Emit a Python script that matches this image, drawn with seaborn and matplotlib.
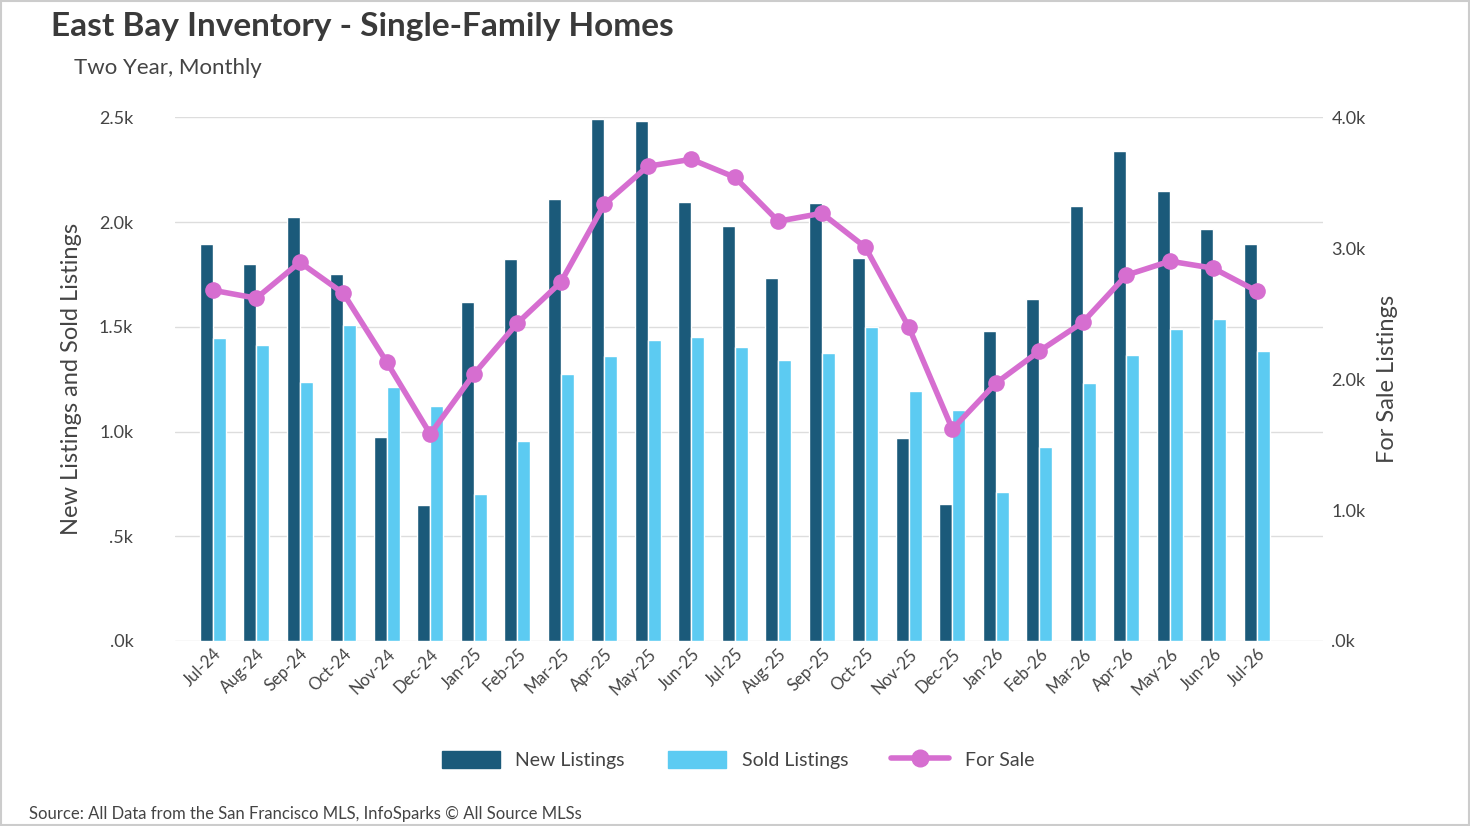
import matplotlib
matplotlib.use("Agg")
import matplotlib.pyplot as plt
import matplotlib.ticker as mticker
from matplotlib.patches import Rectangle
from matplotlib.lines import Line2D
import seaborn as sns
import pandas as pd
import numpy as np

months = ["Jul-24", "Aug-24", "Sep-24", "Oct-24", "Nov-24", "Dec-24", "Jan-25", "Feb-25",
          "Mar-25", "Apr-25", "May-25", "Jun-25", "Jul-25", "Aug-25", "Sep-25", "Oct-25",
          "Nov-25", "Dec-25", "Jan-26", "Feb-26", "Mar-26", "Apr-26", "May-26", "Jun-26", "Jul-26"]
new_listings = [1894, 1799, 2023, 1751, 973, 649, 1617, 1823, 2109, 2490, 2481, 2094, 1980,
                1732, 2090, 1827, 968, 654, 1479, 1632, 2075, 2338, 2147, 1966, 1894]
sold_listings = [1446, 1412, 1236, 1508, 1212, 1121, 701, 954, 1274, 1360, 1436, 1450, 1403,
                 1341, 1374, 1498, 1193, 1102, 711, 926, 1231, 1365, 1489, 1536, 1384]
for_sale = [2679, 2618, 2893, 2656, 2130, 1580, 2038, 2427, 2740, 3336, 3626, 3679, 3542,
            3206, 3267, 3008, 2397, 1618, 1969, 2214, 2435, 2794, 2901, 2847, 2672]

DARK = "#1b5a7a"
LIGHT = "#5ccbf2"
PINK = "#d66ed0"
TXT = "#444444"

sns.set_theme(style="white")
plt.rcParams["font.family"] = ["Lato", "DejaVu Sans"]

df = pd.DataFrame({
    "month": months * 2,
    "value": new_listings + sold_listings,
    "series": ["New Listings"] * len(months) + ["Sold Listings"] * len(months),
})

fig = plt.figure(figsize=(14.7, 8.26), dpi=100)
ax = fig.add_axes([0.119, 0.224, 0.781, 0.634])
sns.barplot(data=df, x="month", y="value", hue="series", palette=[DARK, LIGHT],
            width=0.6, gap=0, ax=ax, legend=False, saturation=1)
ax.set_ylim(0, 2500)
ax.set_xlim(-0.87, len(months) + 0.52)
ax.yaxis.set_major_locator(mticker.MultipleLocator(500))
fmt = lambda v, p: f"{v/1000:.1f}k".lstrip("0")
ax.yaxis.set_major_formatter(mticker.FuncFormatter(fmt))
ax.grid(axis="y", color="#dddddd", lw=1)
ax.set_axisbelow(True)
for s in ax.spines.values():
    s.set_visible(False)
ax.set_xlabel("")
ax.set_ylabel("New Listings and Sold Listings", fontsize=17, color=TXT, labelpad=12)
ax.tick_params(axis="y", labelsize=13, labelcolor=TXT, length=0, pad=30)
ax.tick_params(axis="x", labelsize=12, labelcolor=TXT, length=0)
plt.setp(ax.get_xticklabels(), rotation=45, ha="right", rotation_mode="anchor")

ax2 = ax.twinx()
sns.lineplot(x=np.arange(len(months)), y=for_sale, ax=ax2, color=PINK, lw=4,
             marker="o", markersize=12, markeredgewidth=0)
ax2.set_ylim(0, 4000)
ax2.yaxis.set_major_locator(mticker.MultipleLocator(1000))
ax2.yaxis.set_major_formatter(mticker.FuncFormatter(fmt))
for s in ax2.spines.values():
    s.set_visible(False)
ax2.set_ylabel("For Sale Listings", fontsize=17, color=TXT, labelpad=8)
ax2.tick_params(axis="y", labelsize=13, labelcolor=TXT, length=0, pad=6)

fig.text(0.035, 0.985, "East Bay Inventory - Single-Family Homes", fontsize=24,
         fontweight="bold", color="#3a3a3a", va="top")
fig.text(0.05, 0.93, "Two Year, Monthly", fontsize=16, color=TXT, va="top")
fig.text(0.02, 0.008, "Source: All Data from the San Francisco MLS, InfoSparks \u00a9 All Source MLSs",
         fontsize=12, color=TXT)

handles = [Rectangle((0, 0), 1, 1, color=DARK), Rectangle((0, 0), 1, 1, color=LIGHT),
           Line2D([0], [0], color=PINK, lw=4, marker="o", markersize=12)]
fig.legend(handles, ["New Listings", "Sold Listings", "For Sale"], loc="center",
           bbox_to_anchor=(0.502, 0.08), ncol=3, frameon=False, fontsize=14,
           handlelength=3, handleheight=1, columnspacing=2.2, labelcolor=TXT)

fig.patches.append(Rectangle((0.001, 0.001), 0.998, 0.998, transform=fig.transFigure,
                             fill=False, edgecolor="#cccccc", lw=1.5))
fig.savefig("out.png", dpi=100)
